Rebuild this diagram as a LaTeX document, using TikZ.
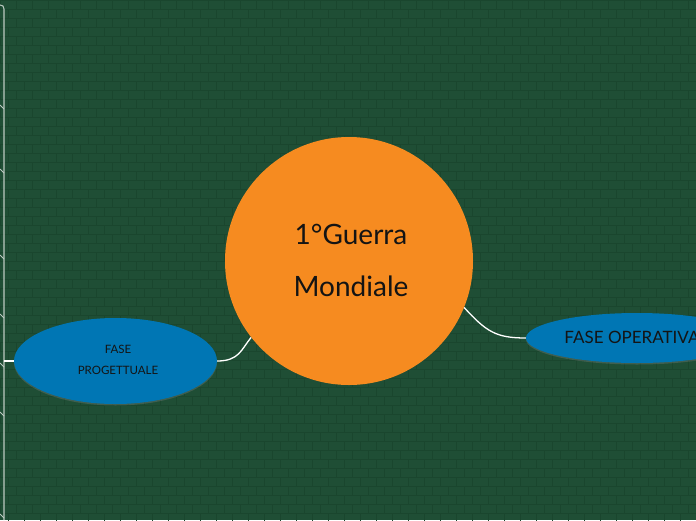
\documentclass[tikz,border=0pt]{standalone}
\usepackage{fontspec}
\setmainfont{Lato}
\usepackage{xcolor}
\usetikzlibrary{shapes.geometric,shadows}

\definecolor{board}{RGB}{31,78,53}
\definecolor{brick}{RGB}{26,70,46}
\definecolor{mainorange}{RGB}{246,139,32}
\definecolor{topicblue}{RGB}{0,118,180}
\definecolor{inkdark}{RGB}{20,20,20}

\begin{document}
\begin{tikzpicture}[
    x=1pt,y=-1pt,
    central/.style={circle,fill=mainorange,minimum size=248pt,inner sep=0pt},
    topic/.style={ellipse,fill=topicblue,inner sep=0pt,
                  drop shadow={opacity=0.35,shadow xshift=0pt,shadow yshift=-1.5pt}},
    label/.style={align=center,text=inkdark},
    link/.style={draw=white,line width=1.3pt},
    edge/.style={draw=white!70!board,line width=1.1pt}
]
\useasboundingbox (0,0) rectangle (696,520);
\clip (0,0) rectangle (696,520);
\fill[board] (0,0) rectangle (696,520);

% brick texture
\foreach \r in {0,...,57}{
  \draw[brick,line width=0.6pt] (0,9*\r) -- (696,9*\r);
  \pgfmathsetmacro{\off}{mod(\r,2)*8}
  \foreach \c in {0,...,44}
    \draw[brick,line width=0.6pt] (\off+16*\c,9*\r) -- (\off+16*\c,9*\r+9);
}

\node[central] (guerra) at (349,261) {};
\node[label,font=\fontsize{28}{52}\selectfont] (titolo) at (351,260) {1°Guerra\\ Mondiale};

\node[topic,minimum width=203pt,minimum height=86pt] (progetto) at (115.5,361) {};
\node[label,font=\fontsize{11.5}{21}\selectfont] (progettotxt) at (118,360) {FASE\\ PROGETTUALE};

\node[topic,minimum width=222pt,minimum height=50pt] (operativo) at (637,338) {};
\node[label,font=\fontsize{17}{19}\selectfont] (operativotxt) at (632,337) {FASE OPERATIVA};

% connectors
\draw[link] (progetto.east) .. controls +(22,0) and +(-10,12) .. (guerra.218);
\draw[link] (guerra.338) .. controls +(22,24) and +(-30,0) .. (operativo.west);

% branch coming from the left
\coordinate (trunktop) at (4,9);
\coordinate (trunkbot) at (4,520);
\coordinate (trunkjoin) at (4,361);
\draw[edge] (0,5) -- (3,6) -- (trunktop) -- (trunkbot);
\foreach \y in {108,172,258,317,366,415,517}
  \draw[edge,line width=0.8pt] (0,\y-3) -- (4,\y+1);
\draw[link] (trunkjoin) -- (progetto.west);
\end{tikzpicture}
\end{document}
